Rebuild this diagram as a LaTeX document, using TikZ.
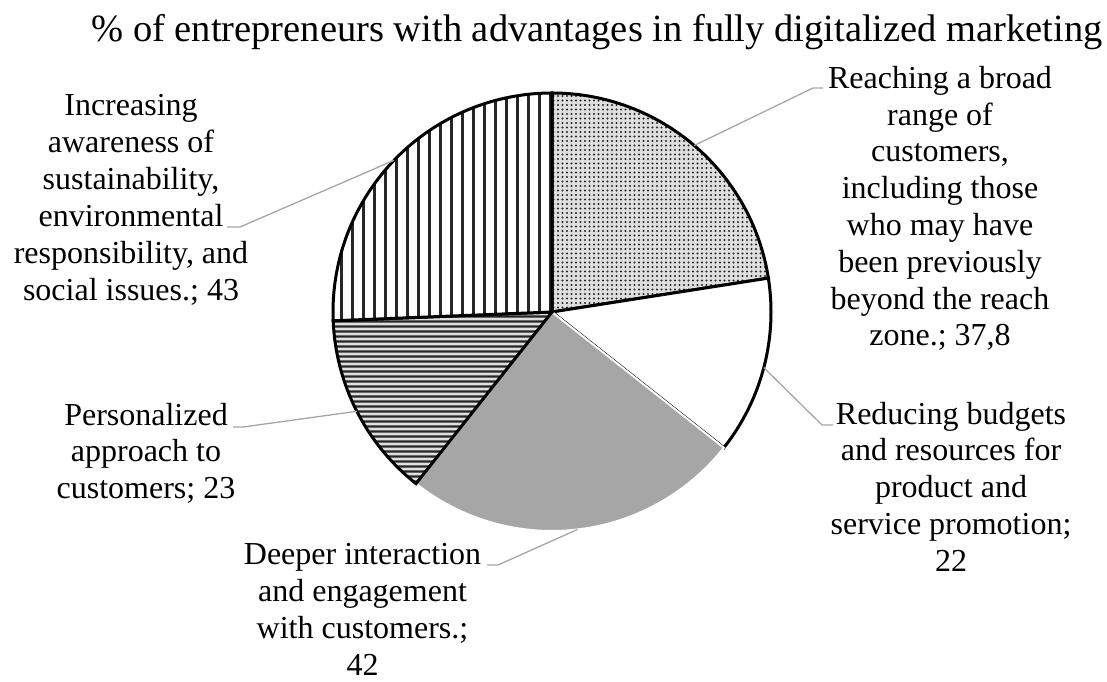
\documentclass[tikz,border=0pt]{standalone}
\usepackage{fontspec}
\setmainfont{Liberation Serif}
\usetikzlibrary{patterns.meta}
\definecolor{slicegray}{RGB}{166,166,166}
\definecolor{leadergray}{RGB}{166,166,166}
\tikzset{
  slice/.style={draw=black, line width=3pt, line join=miter},
  leader/.style={draw=leadergray, line width=1.3pt},
  lbl/.style={align=center, inner sep=0pt, anchor=base, font=\fontsize{32}{36.8}\selectfont},
}
\begin{document}
\begin{tikzpicture}[x=1pt, y=1pt]
    \useasboundingbox (0,0) rectangle (1107,681);
    \coordinate (pie) at (552,369);
    \draw[slice, preaction={fill=gray!25}, pattern={Dots[distance=4.5pt, radius=1.2pt]}, pattern color=black!85]
      (pie) -- +(90:219) arc [start angle=90, end angle=8.9, radius=219] -- cycle;
    \draw[slice, fill=white]
      (pie) -- +(8.9:219) arc [start angle=8.9, end angle=-38.3, radius=219] -- cycle;
    \draw[draw=white, line width=2pt, fill=slicegray]
      (pie) -- +(-38.3:219) arc [start angle=-38.3, end angle=-128.4, radius=219] -- cycle;
    \draw[slice, preaction={fill=gray!25}, pattern={Lines[distance=5.4pt, line width=2.4pt]}, pattern color=black!85]
      (pie) -- +(-128.4:219) arc [start angle=-128.4, end angle=-177.7, radius=219] -- cycle;
    \draw[slice, preaction={fill=white}, pattern={Lines[angle=90, distance=11pt, line width=3pt]}, pattern color=black!85]
      (pie) -- +(-177.7:219) arc [start angle=-177.7, end angle=-270, radius=219] -- cycle;

    \node[font=\fontsize{38.5}{44}\selectfont, anchor=base] (title) at (597,639)
      {\% of entrepreneurs with advantages in fully digitalized marketing};

    \node[lbl] (reach)    at (940,335.1) {Reaching a broad\\range of\\customers,\\including those\\who may have\\been previously\\beyond the reach\\zone.; 37,8};
    \node[lbl] (budget)   at (951,109.8) {Reducing budgets\\and resources for\\product and\\service promotion;\\22};
    \node[lbl] (deeper)   at (362.5,6)   {Deeper interaction\\and engagement\\with customers.;\\42};
    \node[lbl] (personal) at (146,182.4) {Personalized\\approach to\\customers; 23};
    \node[lbl] (aware)    at (131,381)   {Increasing\\awareness of\\sustainability,\\environmental\\responsibility, and\\social issues.; 43};

    \coordinate (reach-pt)    at (694.2,535.5);
    \coordinate (reach-bend)  at (813,593);
    \coordinate (reach-end)   at (823,593);
    \coordinate (budget-pt)   at (763.8,313.4);
    \coordinate (budget-bend) at (822,256);
    \coordinate (budget-end)  at (833,256);
    \coordinate (deeper-pt)   at (577.4,151.5);
    \coordinate (deeper-bend) at (498,116);
    \coordinate (deeper-end)  at (487,116);
    \coordinate (personal-pt)   at (356.8,269.7);
    \coordinate (personal-bend) at (243,254);
    \coordinate (personal-end)  at (233,254);
    \coordinate (aware-pt)    at (394.1,520.7);
    \coordinate (aware-bend)  at (240,454);
    \coordinate (aware-end)   at (227,454);

    \draw[leader] (reach-pt) -- (reach-bend) -- (reach-end);
    \draw[leader] (budget-pt) -- (budget-bend) -- (budget-end);
    \draw[leader] (deeper-pt) -- (deeper-bend) -- (deeper-end);
    \draw[leader] (personal-pt) -- (personal-bend) -- (personal-end);
    \draw[leader] (aware-pt) -- (aware-bend) -- (aware-end);
\end{tikzpicture}
\end{document}
